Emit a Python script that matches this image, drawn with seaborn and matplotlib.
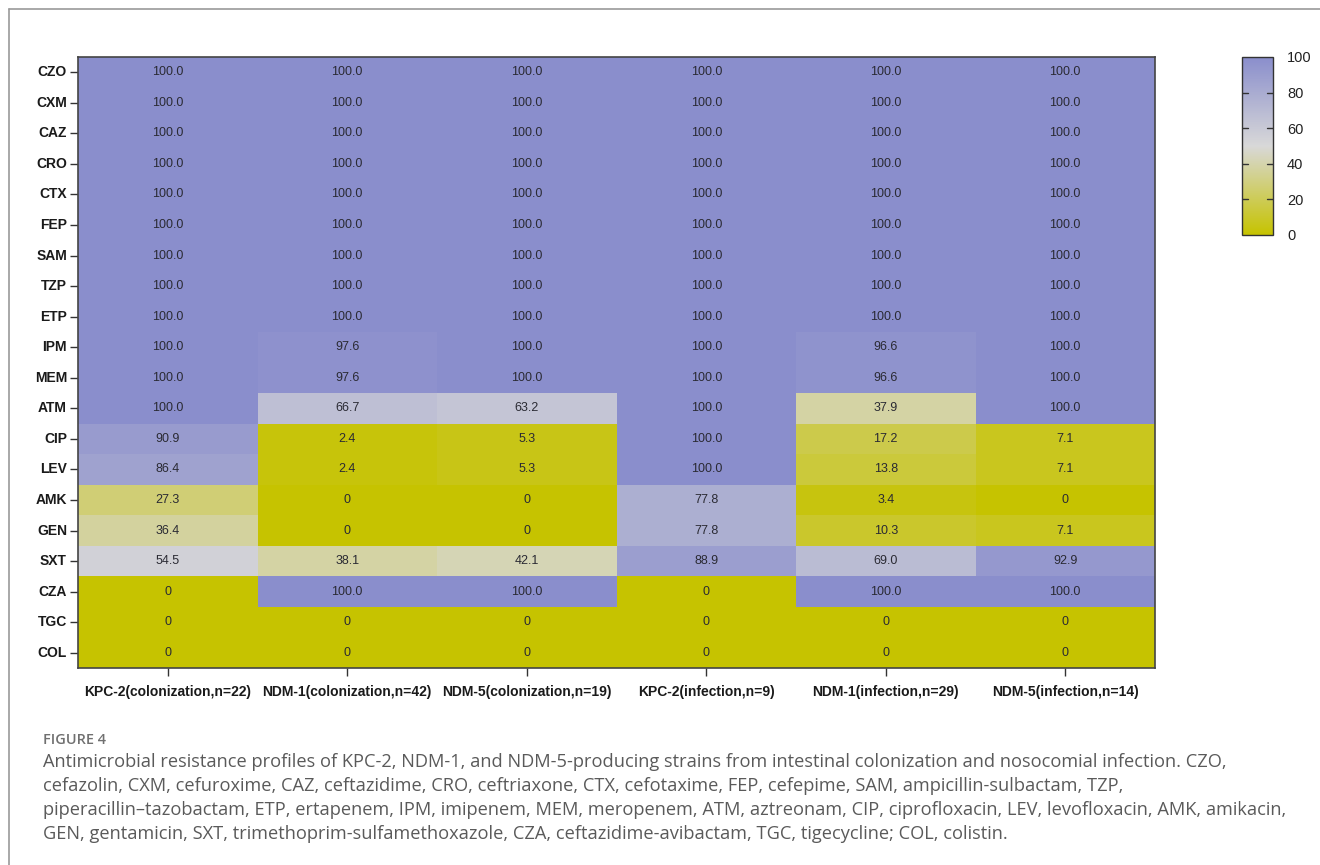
import numpy as np
import pandas as pd
import matplotlib
matplotlib.use("Agg")
import matplotlib.pyplot as plt
from matplotlib.colors import LinearSegmentedColormap
from matplotlib.lines import Line2D
import seaborn as sns

antibiotics = ["CZO", "CXM", "CAZ", "CRO", "CTX", "FEP", "SAM", "TZP", "ETP", "IPM",
               "MEM", "ATM", "CIP", "LEV", "AMK", "GEN", "SXT", "CZA", "TGC", "COL"]
groups = ["KPC-2(colonization,n=22)", "NDM-1(colonization,n=42)", "NDM-5(colonization,n=19)",
          "KPC-2(infection,n=9)", "NDM-1(infection,n=29)", "NDM-5(infection,n=14)"]

kpc2_col = [100, 100, 100, 100, 100, 100, 100, 100, 100, 100, 100, 100, 90.9, 86.4, 27.3, 36.4, 54.5, 0, 0, 0]
ndm1_col = [100, 100, 100, 100, 100, 100, 100, 100, 100, 97.6, 97.6, 66.7, 2.4, 2.4, 0, 0, 38.1, 100, 0, 0]
ndm5_col = [100, 100, 100, 100, 100, 100, 100, 100, 100, 100, 100, 63.2, 5.3, 5.3, 0, 0, 42.1, 100, 0, 0]
kpc2_inf = [100, 100, 100, 100, 100, 100, 100, 100, 100, 100, 100, 100, 100, 100, 77.8, 77.8, 88.9, 0, 0, 0]
ndm1_inf = [100, 100, 100, 100, 100, 100, 100, 100, 100, 96.6, 96.6, 37.9, 17.2, 13.8, 3.4, 10.3, 69.0, 100, 0, 0]
ndm5_inf = [100, 100, 100, 100, 100, 100, 100, 100, 100, 100, 100, 100, 7.1, 7.1, 0, 7.1, 92.9, 100, 0, 0]

cbar_ticks = [0, 20, 40, 60, 80, 100]

caption_label = "FIGURE 4"
caption_lines = [
    "Antimicrobial resistance profiles of KPC-2, NDM-1, and NDM-5-producing strains from intestinal colonization and nosocomial infection. CZO,",
    "cefazolin, CXM, cefuroxime, CAZ, ceftazidime, CRO, ceftriaxone, CTX, cefotaxime, FEP, cefepime, SAM, ampicillin-sulbactam, TZP,",
    "piperacillin\u2013tazobactam, ETP, ertapenem, IPM, imipenem, MEM, meropenem, ATM, aztreonam, CIP, ciprofloxacin, LEV, levofloxacin, AMK, amikacin,",
    "GEN, gentamicin, SXT, trimethoprim-sulfamethoxazole, CZA, ceftazidime-avibactam, TGC, tigecycline; COL, colistin.",
]

df = pd.DataFrame(np.column_stack([kpc2_col, ndm1_col, ndm5_col, kpc2_inf, ndm1_inf, ndm5_inf]),
                  index=antibiotics, columns=groups)
labels = df.map(lambda v: "0" if v == 0 else f"{v:.1f}")

sns.set_style("white")
plt.rcParams["font.family"] = ["Liberation Sans", "DejaVu Sans"]

cmap = LinearSegmentedColormap.from_list(
    "resist", [(0.0, "#C6C300"), (0.5, "#D8D8D8"), (1.0, "#8A8ECC")])

W, H = 1320, 865
fig = plt.figure(figsize=(W / 100, H / 100), dpi=100)
ax = fig.add_axes([78 / W, 1 - 668 / H, (1155 - 78) / W, (668 - 57) / H])
cax = fig.add_axes([1242 / W, 1 - 235 / H, 31 / W, (235 - 57) / H])

sns.heatmap(df, ax=ax, cbar_ax=cax, cmap=cmap, vmin=0, vmax=100,
            annot=labels, fmt="", annot_kws={"fontsize": 9, "color": "#2a2a33"},
            linewidths=0, cbar_kws={"ticks": cbar_ticks})

for s in ax.spines.values():
    s.set_visible(True)
    s.set_color("#444444")
    s.set_linewidth(1.2)

ax.tick_params(axis="both", which="major", length=6, width=1.0, color="#333333",
               bottom=True, left=True)
ax.set_yticklabels(antibiotics, rotation=0, fontsize=10, fontweight="bold", color="#1a1a1a")
ax.set_xticklabels(groups, rotation=0, fontsize=10, fontweight="bold", color="#1a1a1a")
ax.tick_params(axis="x", pad=6)
ax.tick_params(axis="y", pad=2)
ax.set_xlabel("")
ax.set_ylabel("")

cbar = ax.collections[0].colorbar
cbar.outline.set_visible(True)
cbar.outline.set_edgecolor("#333333")
cbar.outline.set_linewidth(1.0)
cax.tick_params(axis="y", length=0, labelsize=10.5, right=True, left=False, pad=10,
                labelcolor="#222222")
for t in cbar_ticks[1:-1]:
    cax.plot([0, 0.2], [t, t], color="#333333", lw=1.0, transform=cax.get_yaxis_transform())
    cax.plot([0.8, 1.0], [t, t], color="#333333", lw=1.0, transform=cax.get_yaxis_transform())

# panel frame lines
fig.add_artist(Line2D([9 / W, 9 / W], [0, 1 - 9 / H], transform=fig.transFigure,
                      color="#9a9a9a", lw=1.2))
fig.add_artist(Line2D([9 / W, 1], [1 - 9 / H, 1 - 9 / H], transform=fig.transFigure,
                      color="#9a9a9a", lw=1.2))

renderer = fig.canvas.get_renderer()


def fit_text(x_px, y_px, s, width_px, **kw):
    t = fig.text(x_px / W, 1 - y_px / H, s, fontsize=10, va="center", **kw)
    w = t.get_window_extent(renderer).width
    t.set_fontsize(10 * width_px / w)
    return t


cap_font = ["Open Sans", "DejaVu Sans"]
fit_text(43, 740, caption_label, 63, color="#707070", family=cap_font, fontweight="semibold")
# size the body text so the longest line spans the caption block
probe = fig.text(0, 0, caption_lines[2], fontsize=10, family=cap_font)
scale = 1243 / probe.get_window_extent(renderer).width
probe.remove()
for i, line in enumerate(caption_lines):
    fig.text(43 / W, 1 - (762 + 24 * i) / H, line, fontsize=10 * scale, color="#5a5a5a",
             family=cap_font, va="center")

fig.savefig("out.png", dpi=100)
